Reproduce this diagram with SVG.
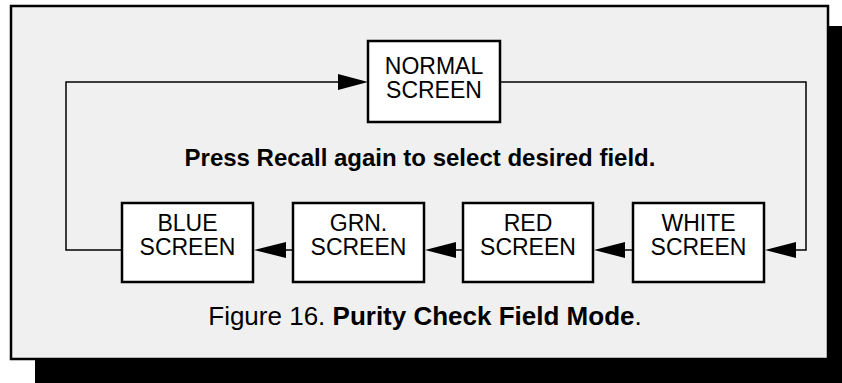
<svg xmlns="http://www.w3.org/2000/svg" width="842" height="383" viewBox="0 0 842 383">
<defs>
<style>
.box{fill:#ffffff;stroke:#000;stroke-width:2.5}
.lbl{font-family:"Liberation Sans",Arial,sans-serif;font-size:23px;fill:#000;text-anchor:middle}
.conn{fill:none;stroke:#000;stroke-width:1.5}
.head{fill:#000}
</style>
</defs>
<rect x="0" y="0" width="842" height="383" fill="#ffffff"/>
<rect x="35" y="26" width="807" height="357" fill="#000"/>
<rect x="11" y="6" width="817" height="353" fill="#f0f0f0" stroke="#000" stroke-width="2.5"/>
<g id="connectors">
<polyline class="conn" points="122,250 66,250 66,82 340,82"/>
<polygon class="head" points="368,82 338,74 338,90"/>
<polyline class="conn" points="500,82 806,82 806,250 795,250"/>
<polygon class="head" points="765,250 796,242 796,258"/>
<line class="conn" x1="633" y1="250" x2="620" y2="250"/>
<polygon class="head" points="594,250 625,242 625,258"/>
<line class="conn" x1="463" y1="250" x2="450" y2="250"/>
<polygon class="head" points="425,250 456,242 456,258"/>
<line class="conn" x1="293" y1="250" x2="280" y2="250"/>
<polygon class="head" points="254,250 286,242 286,258"/>
</g>
<g id="normal">
<rect class="box" x="368" y="41" width="132" height="81"/>
<text class="lbl" x="434" y="74">NORMAL</text>
<text class="lbl" x="434" y="98">SCREEN</text>
</g>
<g id="blue">
<rect class="box" x="122" y="203" width="131" height="79"/>
<text class="lbl" x="187.5" y="231">BLUE</text>
<text class="lbl" x="187.5" y="255">SCREEN</text>
</g>
<g id="grn">
<rect class="box" x="293" y="203" width="131" height="79"/>
<text class="lbl" x="358.5" y="231">GRN.</text>
<text class="lbl" x="358.5" y="255">SCREEN</text>
</g>
<g id="red">
<rect class="box" x="463" y="203" width="130" height="79"/>
<text class="lbl" x="528" y="231">RED</text>
<text class="lbl" x="528" y="255">SCREEN</text>
</g>
<g id="white">
<rect class="box" x="633" y="203" width="131" height="79"/>
<text class="lbl" x="698.5" y="231">WHITE</text>
<text class="lbl" x="698.5" y="255">SCREEN</text>
</g>
<g id="instruction">
<text x="420" y="166" font-family="Liberation Sans,Arial,sans-serif" font-size="24" font-weight="bold" text-anchor="middle">Press Recall again to select desired field.</text>
</g>
<g id="caption">
<text x="425" y="325" font-family="Liberation Sans,Arial,sans-serif" font-size="26" text-anchor="middle">Figure 16. <tspan font-weight="bold">Purity Check Field Mode</tspan>.</text>
</g>
</svg>
